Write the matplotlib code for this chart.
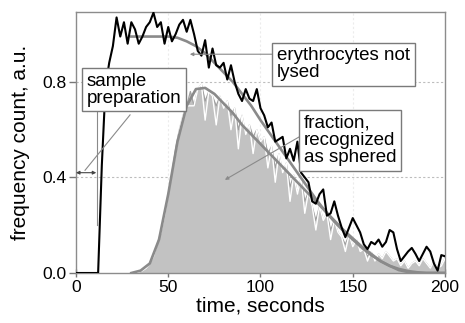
import numpy as np
import matplotlib
matplotlib.use("Agg")
import matplotlib.pyplot as plt

plt.rcParams['font.family'] = ['Liberation Sans', 'DejaVu Sans']

# total count of cells that are not lysed (2 s bins)
t_total = list(range(0, 201, 2))
total = [0, 0, 0, 0, 0, 0, 0.0, 0.45, 0.78, 0.88,
         0.95, 1.07, 0.99, 1.05, 0.96, 1.05, 1.02, 0.96, 0.99, 1.03,
         1.05, 1.09, 1.03, 1.05, 0.96, 1.03, 0.97, 1.00, 1.04, 1.06,
         1.01, 1.06, 1.00, 0.93, 0.91, 0.975, 0.86, 0.94, 0.87, 0.86,
         0.88, 0.81, 0.87, 0.80, 0.75, 0.72, 0.77, 0.73, 0.72, 0.77,
         0.69, 0.66, 0.61, 0.63, 0.55, 0.56, 0.57, 0.48, 0.52, 0.47,
         0.55, 0.42, 0.40, 0.38, 0.30, 0.29, 0.33, 0.35, 0.24, 0.25,
         0.30, 0.24, 0.19, 0.15, 0.19, 0.23, 0.20, 0.17, 0.12, 0.10,
         0.13, 0.12, 0.14, 0.11, 0.13, 0.18, 0.17, 0.10, 0.05, 0.07,
         0.09, 0.105, 0.08, 0.05, 0.08, 0.11, 0.09, 0.04, 0.01, 0.075,
         0.07]

# fraction recognized as sphered (2 s bins)
t_sph = list(range(30, 201, 2))
sphered = [0, 0, 0.005, 0.01, 0.02, 0.04, 0.07, 0.12, 0.17, 0.25,
           0.33, 0.42, 0.52, 0.60, 0.66, 0.70, 0.76, 0.70, 0.77, 0.79,
           0.72, 0.76, 0.74, 0.70, 0.74, 0.69, 0.72, 0.66, 0.69, 0.60,
           0.66, 0.58, 0.62, 0.57, 0.60, 0.55, 0.57, 0.50, 0.53, 0.44,
           0.50, 0.42, 0.46, 0.36, 0.41, 0.33, 0.40, 0.30, 0.34, 0.28,
           0.22, 0.28, 0.22, 0.25, 0.18, 0.22, 0.17, 0.15, 0.12, 0.16,
           0.11, 0.14, 0.09, 0.10, 0.07, 0.09, 0.05, 0.08, 0.06, 0.09,
           0.07, 0.05, 0.06, 0.03, 0.05, 0.02, 0.04, 0.05, 0.03, 0.06,
           0.04, 0.02, 0.05, 0.02, 0.03, 0.06]
# second reading of the sphered fraction (drawn as a white trace)
sphered_b = [0, 0, 0.005, 0.01, 0.02, 0.04, 0.07, 0.12, 0.17, 0.24,
             0.33, 0.42, 0.50, 0.60, 0.66, 0.70, 0.70, 0.70, 0.77, 0.79,
             0.64, 0.76, 0.74, 0.62, 0.74, 0.69, 0.72, 0.60, 0.69, 0.52,
             0.66, 0.58, 0.62, 0.50, 0.60, 0.55, 0.57, 0.44, 0.53, 0.38,
             0.50, 0.42, 0.46, 0.30, 0.41, 0.33, 0.40, 0.25, 0.34, 0.28,
             0.18, 0.28, 0.22, 0.25, 0.14, 0.22, 0.17, 0.15, 0.09, 0.16,
             0.11, 0.14, 0.09, 0.10, 0.05, 0.09, 0.05, 0.08, 0.06, 0.09,
             0.07, 0.05, 0.06, 0.03, 0.05, 0.02, 0.04, 0.05, 0.03, 0.06,
             0.04, 0.02, 0.05, 0.02, 0.03, 0.06]

# smooth model curves
t_fit = [30, 35, 40, 45, 50, 55, 60, 65, 70, 75, 80, 85, 90, 95, 100,
         105, 110, 115, 120, 125, 130, 135, 140, 145, 150, 155, 160,
         165, 170, 175, 180, 185, 190, 195, 200]
fit_total = [0.99, 0.99, 0.99, 0.99, 0.99, 0.985, 0.97, 0.95, 0.92, 0.88,
             0.84, 0.80, 0.75, 0.70, 0.64, 0.585, 0.53, 0.475, 0.42, 0.365,
             0.31, 0.26, 0.215, 0.175, 0.14, 0.105, 0.075, 0.05, 0.03,
             0.017, 0.008, 0.003, 0.0, 0.0, 0.0]
fit_sphered = [0.0, 0.01, 0.04, 0.14, 0.33, 0.55, 0.70, 0.77, 0.775, 0.75,
               0.71, 0.67, 0.62, 0.58, 0.54, 0.50, 0.46, 0.42, 0.38, 0.34,
               0.30, 0.26, 0.22, 0.18, 0.145, 0.11, 0.08, 0.05, 0.03, 0.012,
               0.004, 0.0, 0.0, 0.0, 0.0]

fig = plt.figure(figsize=(4.65, 3.23), dpi=100)
ax = fig.add_axes([0.1634, 0.1548, 0.957 - 0.1634, 0.963 - 0.1548])

fill_c = '#c2c2c2'
fit_c = '#8a8a8a'

ax.fill_between(t_sph, 0, sphered, color=fill_c, lw=0, zorder=2)
ax.plot(t_sph, sphered, color='#a0a0a0', lw=0.9, zorder=3)
ax.plot(t_sph, sphered_b, color='white', lw=1.0, zorder=3)
ax.plot(t_total, total, color='black', lw=1.5, zorder=5)
ax.plot(t_fit, fit_sphered, color=fit_c, lw=1.9, zorder=4)
ax.plot(t_fit, fit_total, color=fit_c, lw=1.9, zorder=4)

ax.set_xlim(0, 200)
ax.set_ylim(0, 1.093)
ax.set_xticks([0, 50, 100, 150, 200])
ax.set_yticks([0.0, 0.4, 0.8])
ax.set_yticklabels(['0.0', '0.4', '0.8'])
ax.tick_params(axis='both', labelsize=12.6, color='#777777', width=1,
               length=5, pad=2)
ax.tick_params(axis='x', direction='inout', length=6)
for s in ax.spines.values():
    s.set_color('#8c8c8c')
    s.set_linewidth(1.0)

for yv in (0.4, 0.8):
    ax.axhline(yv, color='#bdbdbd', lw=0.8, ls=(0, (2, 2)), zorder=1)
for xv in (50, 100, 150):
    ax.axvline(xv, color='#ececec', lw=0.8, ls=(0, (2, 2)), zorder=1)

ax.set_xlabel('time, seconds', fontsize=15, labelpad=1)
ax.set_ylabel('frequency count, a.u.', fontsize=15, labelpad=9)

box = dict(boxstyle='square,pad=0.25', fc='white', ec='#7a7a7a', lw=1.0)
ann_fs = 13.5
line_c = '#8a8a8a'

# sample preparation interval
ax.annotate('', xy=(0, 0.42), xytext=(11.0, 0.42),
            arrowprops=dict(arrowstyle='<|-|>', color='#444444', lw=0.8,
                            mutation_scale=5, shrinkA=0, shrinkB=0), zorder=6)
ax.plot([11.2, 11.2], [0.2, 0.68], color=line_c, lw=0.8, zorder=4)
ax.plot([29.3, 4.9], [0.662, 0.43], color=line_c, lw=0.8, zorder=6)
ax.text(5.8, 0.768, 'sample\npreparation', fontsize=ann_fs, ha='left',
        va='center', bbox=box, zorder=7, linespacing=1.0)

# erythrocytes not lysed
ax.annotate('', xy=(61.7, 0.916), xytext=(107, 0.916),
            arrowprops=dict(arrowstyle='-|>', color=line_c, lw=0.8,
                            mutation_scale=5, shrinkA=0, shrinkB=0), zorder=6)
ax.text(109.0, 0.873, 'erythrocytes not\nlysed', fontsize=ann_fs,
        ha='left', va='center', bbox=box, zorder=7, linespacing=1.0)

# sphered fraction
ax.annotate('', xy=(80.7, 0.39), xytext=(121, 0.57),
            arrowprops=dict(arrowstyle='-|>', color=line_c, lw=0.8,
                            mutation_scale=5, shrinkA=0, shrinkB=0), zorder=6)
ax.text(123.5, 0.555, 'fraction,\nrecognized\nas sphered', fontsize=ann_fs,
        ha='left', va='center', bbox=box, zorder=7, linespacing=1.0)

fig.savefig('out.png', dpi=100)
